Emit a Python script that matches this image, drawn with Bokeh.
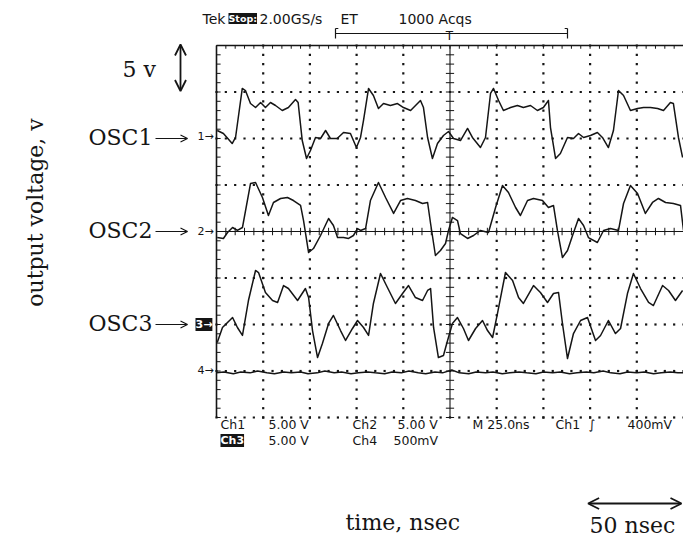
import numpy as np
from bokeh.plotting import figure
from bokeh.models import Label, Arrow, OpenHead, Range1d
from bokeh.embed import file_html
from bokeh.resources import INLINE

# ---------------- scope settings ----------------
ns_per_div = 25.0
volts_per_div = [5.0, 5.0, 5.0, 0.5]
channel_pos_div = [2.0, 0.0, -2.0, -3.0]
channel_names = ["OSC1", "OSC2", "OSC3"]
trigger_level = "400mV"
sample_rate = "2.00GS/s"
acqs = "1000 Acqs"

# ---------------- traces (time ns, volts) ----------------
t1 = [0.4, 3.7, 8.4, 10.2, 13.8, 15.5, 18.2, 20.9, 23.6, 26.2,
      28.9, 31.6, 35.2, 38.5, 42.3, 43.7, 45.9, 48.2, 50.3, 53.0,
      55.7, 58.4, 61.0, 64.6, 68.0, 71.7, 74.9, 77.1, 78.7, 81.4,
      84.0, 86.7, 89.4, 93.1, 96.9, 100.1, 103.9, 109.2, 110.8, 113.0,
      115.6, 118.3, 121.5, 124.2, 126.9, 130.6, 134.4, 137.0, 141.3, 144.0,
      146.7, 148.3, 151.0, 153.6, 157.4, 161.1, 164.3, 168.1, 171.8, 175.0,
      177.7, 178.8, 181.5, 184.1, 187.9, 191.1, 193.8, 196.5, 200.2, 203.9,
      206.6, 209.8, 212.5, 215.2, 217.9, 221.6, 225.4, 228.6, 232.3, 236.1,
      239.3, 243.0, 244.6, 247.3, 249.5]
v1 = [0.86, 0.54, -0.54, 0.11, 5.38, 5.16, 3.76, 3.33, 3.87, 3.33,
      3.87, 3.55, 3.01, 3.33, 4.19, 3.87, -0.22, -2.15, -1.29, 0.11,
      0.0, 0.86, 0.0, 0.0, 0.65, 0.54, -0.97, 0.11, 1.94, 5.38,
      4.62, 3.23, 3.76, 3.55, 3.76, 3.33, 3.01, 4.09, 3.33, 0.11,
      -2.15, -0.54, 0.32, 0.75, 0.0, -0.22, 1.08, 0.11, -0.97, 0.11,
      4.84, 5.38, 4.09, 3.01, 3.33, 3.55, 3.33, 3.55, 3.01, 3.33,
      4.09, 1.18, -2.15, -1.61, 0.11, 0.0, 0.54, 0.11, 0.32, 0.65,
      0.11, -0.97, 0.86, 5.16, 4.62, 3.01, 3.23, 3.33, 3.33, 3.23,
      3.01, 3.87, 3.76, 0.11, -2.04]

t2 = [0.4, 3.7, 5.9, 8.6, 11.2, 13.9, 18.2, 20.9, 24.6, 27.8,
      30.5, 34.3, 38.0, 41.2, 45.0, 46.6, 49.3, 51.9, 55.7, 60.0,
      62.6, 64.8, 68.0, 70.7, 73.3, 75.5, 77.1, 79.8, 82.4, 86.7,
      90.5, 94.8, 98.5, 102.2, 106.5, 110.3, 113.0, 114.6, 117.2, 119.9,
      122.6, 124.2, 126.3, 129.0, 130.6, 134.4, 137.6, 141.3, 145.6, 149.4,
      153.1, 156.3, 160.1, 162.7, 166.5, 169.7, 174.5, 177.7, 180.4, 182.5,
      185.2, 187.9, 190.6, 193.8, 196.5, 199.1, 203.9, 207.2, 210.9, 215.2,
      217.9, 221.6, 225.4, 229.6, 233.4, 236.6, 240.4, 244.6, 248.4, 250.0]
v2 = [-0.65, -0.75, -0.11, 0.43, 0.11, 0.43, 5.16, 5.27, 3.66, 1.72,
      3.12, 3.55, 3.66, 3.33, 2.80, 1.18, -2.26, -1.83, -0.43, 1.40,
      0.65, -0.65, -0.65, -0.75, -0.43, 0.32, 0.11, 0.32, 3.33, 5.27,
      3.66, 1.94, 3.33, 3.55, 3.33, 3.01, 3.12, 0.86, -2.58, -2.04,
      -1.29, 0.11, 1.51, 1.18, -0.22, -0.75, -0.43, 0.11, -0.11, 2.58,
      4.95, 4.19, 2.58, 1.72, 3.33, 3.55, 3.33, 2.58, 2.80, 0.11,
      -2.80, -2.04, -0.43, 1.40, 0.65, -0.65, -1.18, 0.11, 0.32, 0.11,
      3.01, 4.95, 4.09, 1.94, 3.12, 3.55, 3.12, 3.01, 2.80, 0.11]

t3 = [0.4, 3.2, 8.6, 11.2, 13.9, 17.1, 20.9, 22.5, 26.2, 30.0,
      32.7, 35.9, 38.5, 43.4, 47.6, 49.3, 51.4, 54.1, 56.7, 60.0,
      62.6, 66.4, 69.1, 72.8, 75.5, 78.7, 81.4, 84.0, 87.8, 91.5,
      95.8, 99.6, 102.8, 106.5, 110.3, 113.0, 114.6, 116.2, 118.8, 121.5,
      123.7, 126.3, 129.0, 132.2, 134.9, 138.7, 142.4, 145.1, 147.8, 150.4,
      154.7, 158.5, 161.7, 164.3, 169.7, 173.4, 177.2, 180.4, 183.1, 185.2,
      187.9, 191.1, 194.9, 198.6, 202.9, 205.6, 209.8, 213.6, 216.3, 220.0,
      223.2, 227.0, 231.3, 233.9, 238.8, 242.0, 245.7, 249.5]
v3 = [-1.94, -0.32, 0.75, -0.32, -1.18, 2.58, 5.81, 5.59, 3.44, 2.58,
      2.37, 4.19, 3.87, 2.58, 3.87, 2.90, -0.65, -3.55, -2.04, 0.11,
      0.97, -0.65, -1.72, -0.43, 0.43, -0.32, -1.18, 2.26, 5.48, 3.98,
      2.26, 3.33, 4.19, 2.90, 2.58, 3.66, 3.87, -0.32, -3.55, -3.33,
      -1.72, 0.11, 0.75, -0.43, -1.72, -0.43, 0.43, -0.65, -1.40, 1.18,
      5.59, 4.73, 2.90, 2.26, 4.19, 3.44, 2.37, 3.33, 3.44, 0.11,
      -3.66, -0.97, 0.43, 0.75, -1.72, -1.18, 0.43, -0.97, -0.43, 3.33,
      5.48, 3.87, 2.37, 2.04, 4.19, 3.66, 2.58, 3.66]

t4 = [0, 4, 9, 13, 18, 22, 27, 31, 36, 40,
      45, 49, 54, 58, 63, 67, 72, 76, 81, 85,
      90, 94, 99, 103, 108, 112, 117, 121, 126, 130,
      135, 139, 144, 148, 153, 157, 162, 166, 171, 175,
      180, 184, 189, 193, 198, 202, 207, 211, 216, 220,
      225, 229, 234, 238, 243, 247, 250]
v4 = [-0.02, -0.01, -0.03, -0.01, -0.02, 0.00, -0.02, -0.03, -0.01, -0.02,
      -0.01, -0.03, -0.02, 0.00, -0.02, -0.01, -0.03, -0.02, -0.01, -0.02,
      -0.03, -0.01, -0.02, 0.00, -0.02, -0.03, -0.01, -0.02, 0.01, -0.02,
      -0.03, -0.01, -0.02, -0.01, -0.03, -0.02, -0.01, -0.02, -0.03, -0.01,
      -0.02, -0.01, -0.03, -0.02, -0.01, -0.02, 0.00, -0.02, -0.03, -0.01,
      -0.02, -0.01, -0.03, -0.02, -0.01, -0.02, -0.02]

traces = [(t1, v1), (t2, v2), (t3, v3), (t4, v4)]

# ---------------- layout: page pixels -> scope units ----------------
W, H = 683, 539
PX_PER_NS = 46.7 / ns_per_div     # horizontal scale
PX_PER_DIV = 46.5                 # vertical scale
GX0, GY0 = 216, 231               # page pixel of (t=0, centre line)


def X(px):
    return (px - GX0) / PX_PER_NS


def Y(py):
    return (GY0 - py) / PX_PER_DIV


INK = "#151515"
SERIF = "DejaVu Serif"
SANS = "DejaVu Sans"

p = figure(width=W, height=H, output_backend="svg", toolbar_location=None,
           x_range=Range1d(X(0), X(W)), y_range=Range1d(Y(H), Y(0)),
           x_axis_location=None, y_axis_location=None, title=None,
           min_border=0, min_border_left=0, min_border_right=0,
           min_border_top=0, min_border_bottom=0)
p.grid.visible = False
p.outline_line_color = None
p.background_fill_color = "white"
p.border_fill_color = "white"

T_END = 10 * ns_per_div

# ---------------- graticule ----------------
dx, dy = [], []
for k in range(1, 10):
    if k == 5:
        continue
    for m in range(41):
        dx.append(k * ns_per_div)
        dy.append(-4 + m * 0.2)
for j in (-4, -3, -2, -1, 1, 2, 3):
    for m in range(51):
        dx.append(m * ns_per_div / 5)
        dy.append(j)
p.scatter(dx, dy, marker="square", size=2.2, fill_color=INK, line_color=None)

# frame top / left
p.line([0, T_END], [4, 4], line_color=INK, line_width=1.6)
p.line([0, 0], [-4, 4], line_color=INK, line_width=1.6)
# centre cross
p.line([T_END / 2] * 2, [-4, 4], line_color=INK, line_width=1.1)
p.line([0, T_END], [0, 0], line_color=INK, line_width=1.1)

minor_y = [-4 + m * 0.2 for m in range(41)]
minor_x = [m * ns_per_div / 5 for m in range(51)]
# left border ticks
p.segment(x0=[0] * len(minor_y), y0=minor_y, x1=[2.2] * len(minor_y), y1=minor_y,
          line_color=INK, line_width=1)
# top border ticks
p.segment(x0=minor_x, y0=[4] * len(minor_x), x1=minor_x, y1=[3.93] * len(minor_x),
          line_color=INK, line_width=1)
# centre vertical ticks
c = T_END / 2
p.segment(x0=[c - 2.2] * len(minor_y), y0=minor_y, x1=[c + 2.2] * len(minor_y), y1=minor_y,
          line_color=INK, line_width=1)
# centre horizontal ticks
p.segment(x0=minor_x, y0=[-0.08] * len(minor_x), x1=minor_x, y1=[0.08] * len(minor_x),
          line_color=INK, line_width=1)

# ---------------- traces ----------------
for (tt, vv), vpd, pos in zip(traces, volts_per_div, channel_pos_div):
    assert len(tt) == len(vv)
    ys = [pos + v / vpd for v in vv]
    p.line(tt, ys, line_color=INK, line_width=1.5, line_join="round")


# ---------------- texts ----------------
def lab(text, px, py, size, font=SANS, align="left", inverse=False, angle=0.0):
    kw = dict(x=X(px), y=Y(py), text=text, text_font=font,
              text_font_size=f"{size}px", text_align=align,
              text_baseline="middle", text_color=INK, angle=angle)
    if inverse:
        kw.update(text_color="white", background_fill_color=INK,
                  text_font_style="bold")
    p.add_layout(Label(**kw))


def arrow(x0, y0, x1, y1, both=False, size=10, lw=1.5):
    head = lambda: OpenHead(size=size, line_width=lw, line_color=INK)
    p.add_layout(Arrow(x_start=x0, y_start=y0, x_end=x1, y_end=y1,
                       start=head() if both else None, end=head(),
                       line_color=INK, line_width=lw))


# header
lab("Tek", 202, 18, 14)
lab("Stop:", 228, 18, 9.5, inverse=True)
lab(sample_rate, 259, 18, 14)
lab("ET", 340, 18, 14)
lab(acqs, 398, 18, 14)
# record bracket
bx0, bx1, byy = X(335), X(567), Y(33)
p.segment(x0=[bx0, bx0, bx1, bx0, bx1 - 1.5], y0=[byy, Y(28), Y(28), Y(28), Y(28)],
          x1=[bx1, bx0, bx1, bx0 + 1.5, bx1], y1=[byy, Y(38), Y(38), Y(28), Y(28)],
          line_color=INK, line_width=1.2)
lab("T", 449, 35, 12, align="center")

# readout
fmt = lambda v: f"{v:.2f} V" if v >= 1 else f"{int(v * 1000)}mV"
lab("Ch1", 220, 424, 12.5)
lab(fmt(volts_per_div[0]), 268, 424, 12.5)
lab("Ch2", 352, 424, 12.5)
lab(fmt(volts_per_div[1]), 397, 424, 12.5)
lab(f"M {ns_per_div:.1f}ns", 472, 424, 12.5)
lab("Ch1", 555, 424, 12.5)
lab("∫", 588, 424, 12.5)
lab(trigger_level, 627, 424, 12.5)
lab("Ch3", 220, 440, 11, inverse=True)
lab(fmt(volts_per_div[2]), 268, 440, 12.5)
lab("Ch4", 352, 440, 12.5)
lab(fmt(volts_per_div[3]), 393, 440, 12.5)

# channel ground markers
lab("1→", 197, 136, 11)
lab("2→", 197, 231, 11)
lab("3→", 195, 324, 11, inverse=True)
lab("4→", 197, 370, 11)

# OSC labels with arrows
for name, pos in zip(channel_names, channel_pos_div[:3]):
    py = GY0 - pos * PX_PER_DIV
    lab(name, 88, py - 1, 22, font=SERIF)
    arrow(X(155), pos, X(187), pos, size=7, lw=1.2)

# volts scale arrow (1 division = 5 V)
top = Y(44)
arrow(X(180), top - 1.0, X(180), top, both=True, size=11, lw=1.8)
lab(f"{int(volts_per_div[0])} v", 122, 69, 22, font=SERIF)

lab("output voltage, v", 35, 212, 22, font=SERIF, align="center", angle=np.pi / 2)

# time scale arrow (50 ns)
xe = X(681)
arrow(xe - 2 * ns_per_div, Y(503), xe, Y(503), both=True, size=11, lw=1.8)
lab("50 nsec", 589, 525, 22, font=SERIF)
lab("time, nsec", 345, 522, 22, font=SERIF)

open("out.html", "w").write(file_html(p, INLINE))
